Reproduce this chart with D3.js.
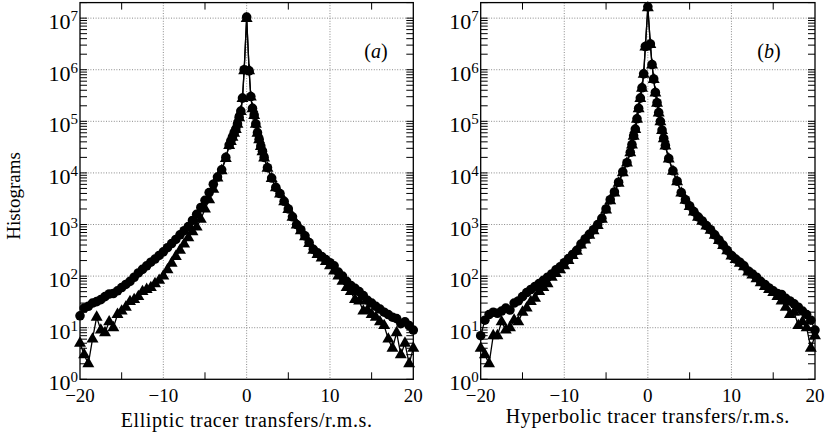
<!DOCTYPE html>
<html><head><meta charset="utf-8">
<script src="https://cdn.jsdelivr.net/npm/d3@7"></script>
<style>
body{margin:0;background:#fff}
svg{display:block}
text{font-family:"Liberation Serif","Times New Roman",serif;fill:#000}
</style>
</head><body>
<svg id="c" width="829" height="438"></svg>
<script>
// bin centres (tracer transfer / r.m.s.)
const xBins = [-20,-19.5,-19,-18.5,-18,-17.5,-17,-16.5,-16,-15.5,-15,-14.5,-14,-13.5,-13,-12.5,-12,-11.5,-11,-10.5,-10,-9.5,-9,-8.5,-8,-7.5,-7,-6.5,-6,-5.5,-5,-4.5,-4,-3.5,-3,-2.5,
  -2.1,-1.9,-1.7,-1.5,-1.3,-1.1,-0.9,-0.7,-0.5,-0.3,0,0.3,0.5,0.7,0.9,1.1,1.3,1.5,1.7,1.9,2.1,
  2.5,3,3.5,4,4.5,5,5.5,6,6.5,7,7.5,8,8.5,9,9.5,10,10.5,11,11.5,12,12.5,13,13.5,14,14.5,15,15.5,16,16.5,17,17.5,18,18.5,19,19.5,20];

// (a) elliptic
const ellipticCircles = [17,24,26,30,32,35,40,45,46,52,60,69,79,95,115,135,158,186,214,251,295,355,427,513,631,759,912,1200,1580,2140,2950,4170,6030,8320,11500,20000,
  34700,41700,50100,60300,70800,89100,120000,158000,282000,1000000,10500000,950000,302000,178000,132000,89100,60300,44700,33100,26300,20000,
  12600,7940,5250,3980,2820,2000,1410,1000,794,603,447,331,282,240,209,182,158,120,100,79,66,58,50,42,34,30,26,23,20,18,16,15,12,13,11,9];
const ellipticTriangles = [5,3,2,6,16,9,8,13,10,18,21,25,32,35,40,50,55,60,71,83,100,132,178,240,316,417,550,724,891,1260,2000,3020,4790,7940,11000,19000,
  33900,40700,49000,58900,69200,87100,117000,155000,275000,955000,9800000,955000,295000,174000,129000,87100,58900,43700,32400,25700,19500,
  12300,7760,5130,3890,2750,1950,1380,977,759,575,427,316,263,224,191,158,126,100,79,60,50,35,33,21,22,18,16,13,11,6,4,8,3,5,2,4];

// (b) hyperbolic
const hyperbolicCircles = [7,14,18,20,19,21,24,22,30,33,40,48,55,63,72,83,95,110,132,151,182,219,263,316,417,525,646,794,1000,1320,2000,3020,4270,6610,10500,15800,
  25100,35500,52500,70800,112000,178000,282000,447000,832000,2820000,16600000,3160000,1260000,661000,363000,229000,148000,100000,67600,46800,33900,
  19100,11000,6920,4170,3020,2290,1780,1410,1170,955,794,631,501,398,316,251,214,186,158,126,110,95,79,69,59,52,46,44,37,33,29,25,21,18,14,9];
const hyperbolicTriangles = [4,3,2,7,7,13,9,10,14,13,20,24,32,37,50,60,71,95,112,132,158,200,251,302,398,501,617,759,955,1260,1910,2880,4070,6310,10000,15500,
  24500,34700,51300,69200,110000,174000,275000,437000,813000,2750000,15800000,3090000,1230000,646000,355000,224000,145000,97700,66100,45700,33100,
  18600,10700,6760,4070,2950,2240,1740,1380,1150,933,776,617,490,389,309,245,209,178,151,120,105,89,74,63,55,48,40,33,25,18,20,11,13,10,4,7];

const xTickValues = [-20,-10,0,10,20];
const xTickLabels = ["\u221220","\u221210","0","10","20"];
const xMinorTicks = [-15,-5,5,15];
const yExponents = [0,1,2,3,4,5,6,7];
const xTitles = ["Elliptic tracer transfers/r.m.s.","Hyperbolic tracer transfers/r.m.s."];
const panelTags = ["a","b"];
const yTitle = "Histograms";

const svg = d3.select("#c");
const TOP = 2.6, BOTTOM = 379.3;
const panels = [
  {left:80, right:413.3, circles:ellipticCircles, triangles:ellipticTriangles, title:xTitles[0], tag:panelTags[0], titleY:427, tagX:376},
  {left:480.7, right:815, circles:hyperbolicCircles, triangles:hyperbolicTriangles, title:xTitles[1], tag:panelTags[1], titleY:423, tagX:769}
];

panels.forEach(p => {
  const x = d3.scaleLinear().domain([-20,20]).range([p.left,p.right]);
  const y = d3.scaleLog().domain([1,2e7]).range([BOTTOM,TOP]);
  const g = svg.append("g");

  // grid
  const grid = g.append("g").attr("stroke","#8a8a8a").attr("stroke-width",1).attr("stroke-dasharray","1,1.6");
  [-10,0,10].forEach(v => grid.append("line").attr("x1",x(v)).attr("x2",x(v)).attr("y1",TOP).attr("y2",BOTTOM));
  yExponents.filter(k=>k>0).forEach(k => grid.append("line").attr("x1",p.left).attr("x2",p.right).attr("y1",y(Math.pow(10,k))).attr("y2",y(Math.pow(10,k))));

  // ticks
  const tk = g.append("g").attr("stroke","#000").attr("stroke-width",1);
  xMinorTicks.forEach(v => {
    tk.append("line").attr("x1",x(v)).attr("x2",x(v)).attr("y1",BOTTOM).attr("y2",BOTTOM-7);
    tk.append("line").attr("x1",x(v)).attr("x2",x(v)).attr("y1",TOP).attr("y2",TOP+7);
  });
  yExponents.forEach(k => {
    for (let m=1;m<=9;m++){
      const v = m*Math.pow(10,k);
      if (v > 2e7) continue;
      const yy = y(v);
      tk.append("line").attr("x1",p.left).attr("x2",p.left+7).attr("y1",yy).attr("y2",yy);
      tk.append("line").attr("x1",p.right).attr("x2",p.right-7).attr("y1",yy).attr("y2",yy);
    }
  });

  // series
  const line = d3.line().x((d,i)=>x(xBins[i])).y(d=>y(d));
  [p.triangles,p.circles].forEach(s => g.append("path").attr("d",line(s)).attr("fill","none").attr("stroke","#000").attr("stroke-width",1.3));
  const tri = d3.symbol().type(d3.symbolTriangle).size(62);
  const cir = d3.symbol().type(d3.symbolCircle).size(72);
  g.append("g").selectAll("path").data(p.triangles).join("path")
    .attr("d",tri).attr("transform",(d,i)=>`translate(${x(xBins[i])},${y(d)})`).attr("fill","#000");
  g.append("g").selectAll("path").data(p.circles).join("path")
    .attr("d",cir).attr("transform",(d,i)=>`translate(${x(xBins[i])},${y(d)})`).attr("fill","#000");

  // frame
  g.append("rect").attr("x",p.left).attr("y",TOP).attr("width",p.right-p.left).attr("height",BOTTOM-TOP)
    .attr("fill","none").attr("stroke","#000").attr("stroke-width",1.3);

  // x tick labels
  xTickValues.forEach((v,i) => g.append("text").attr("x",x(v)).attr("y",BOTTOM+23).attr("text-anchor","middle")
    .attr("font-size",19).text(xTickLabels[i]));
  // y tick labels
  yExponents.forEach(k => {
    const t = g.append("text").attr("x",p.left-2).attr("y",y(Math.pow(10,k))+11).attr("text-anchor","end").attr("font-size",22);
    t.append("tspan").text("10");
    t.append("tspan").attr("font-size",15).attr("dy",-8).text(String(k));
  });
  // x title
  g.append("text").attr("x",(p.left+p.right)/2).attr("y",p.titleY).attr("text-anchor","middle").attr("font-size",20)
    .attr("letter-spacing",0.6).text(p.title);
  // panel tag
  const tg = g.append("text").attr("x",p.tagX).attr("y",58).attr("text-anchor","middle").attr("font-size",20);
  tg.append("tspan").text("(");
  tg.append("tspan").attr("font-style","italic").text(p.tag);
  tg.append("tspan").text(")");
});

svg.append("text").attr("transform","translate(20,196) rotate(-90)").attr("text-anchor","middle").attr("font-size",19).text(yTitle);
</script>
</body></html>
